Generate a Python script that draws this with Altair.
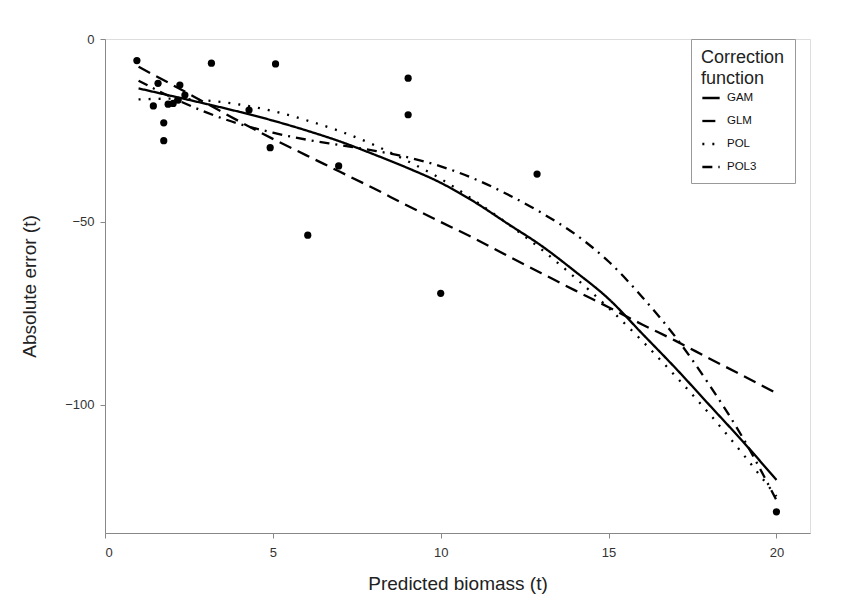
import altair as alt
import pandas as pd

# observed points
obs_x = [0.95, 1.44, 1.58, 1.75, 1.75, 1.88, 2.03, 2.18, 2.23, 2.38, 3.17, 4.29, 4.92, 5.08, 6.04, 6.96, 9.03, 9.03, 10.0, 12.87, 20.0]
obs_y = [-5.9, -18.3, -12.1, -22.9, -27.8, -17.8, -17.6, -16.7, -12.6, -15.3, -6.6, -19.4, -29.7, -6.8, -53.6, -34.7, -10.7, -20.7, -69.5, -36.9, -129.2]

# correction function curves
curve_x = [1, 2, 3, 4, 5, 6, 7, 8, 9, 10, 11, 12, 13, 14, 15, 16, 17, 18, 19, 20]
gam = [-13.5, -15.6, -17.7, -19.9, -22.3, -25.0, -28.0, -31.5, -35.2, -39.3, -44.5, -50.5, -56.5, -63.5, -71.0, -80.5, -90.0, -100.0, -110.0, -120.5]
glm = [-7.6, -12.5, -17.5, -22.5, -27.3, -31.8, -36.3, -40.8, -45.5, -50.0, -54.5, -59.3, -64.0, -68.7, -73.3, -78.0, -82.5, -87.3, -92.0, -96.8]
pol = [-16.5, -16.3, -16.8, -17.9, -19.7, -22.2, -25.2, -28.9, -33.3, -38.2, -44.1, -50.5, -57.5, -65.2, -73.5, -82.5, -92.2, -102.4, -113.4, -125.0]
pol3 = [-11.4, -16.0, -20.0, -23.2, -25.6, -27.5, -29.0, -30.5, -32.3, -34.8, -38.2, -42.5, -47.5, -53.3, -60.8, -70.5, -81.5, -94.5, -109.0, -126.0]

series_names = ["GAM", "GLM", "POL", "POL3"]
x_ticks = [0, 5, 10, 15, 20]
y_ticks = [0, -50, -100]

pts = pd.DataFrame({"x": obs_x, "y": obs_y})
rows = []
for name, vals in zip(series_names, [gam, glm, pol, pol3]):
    for xv, yv in zip(curve_x, vals):
        rows.append({"x": xv, "y": yv, "fn": name})
curves = pd.DataFrame(rows)

FONT = "Liberation Sans"

xscale = alt.Scale(domain=[0, 21], nice=False, zero=False)
yscale = alt.Scale(domain=[-135, 0], nice=False, zero=False)

xaxis = alt.Axis(values=x_ticks, title="Predicted biomass (t)", grid=False,
                 titleFontSize=19, titleFontWeight="normal", titleColor="#222",
                 labelFontSize=13, labelColor="#333", tickColor="#888", domainColor="#888",
                 tickSize=5, labelPadding=8, titlePadding=15)
yaxis = alt.Axis(values=y_ticks, title="Absolute error (t)", grid=False,
                 titleFontSize=19, titleFontWeight="normal", titleColor="#222",
                 labelFontSize=13, labelColor="#333", tickColor="#888", domainColor="#888",
                 tickSize=5, labelPadding=6, titlePadding=25)

lines = alt.Chart(curves).mark_line(color="black", strokeWidth=2.3, interpolate="monotone").encode(
    x=alt.X("x:Q", scale=xscale, axis=xaxis),
    y=alt.Y("y:Q", scale=yscale, axis=yaxis),
    strokeDash=alt.StrokeDash(
        "fn:N",
        scale=alt.Scale(domain=series_names,
                        range=[[1, 0], [13, 7], [2, 8], [10, 6, 2, 6]]),
        legend=alt.Legend(title=["Correction", "function"], orient="none",
                          legendX=586, legendY=0, padding=10,
                          strokeColor="#999", fillColor="white",
                          titleFontSize=18, titleFontWeight="normal", titleColor="#222",
                          titleLineHeight=21, titlePadding=0,
                          labelFontSize=11.5, labelColor="#111",
                          symbolType="stroke", symbolStrokeColor="black",
                          symbolStrokeWidth=2.3, symbolSize=300, rowPadding=7,
                          labelOffset=6),
    ),
    detail="fn:N",
)

points = alt.Chart(pts).mark_circle(color="black", size=52, opacity=1).encode(
    x=alt.X("x:Q", scale=xscale),
    y=alt.Y("y:Q", scale=yscale),
)

chart = alt.layer(lines, points).properties(
    width=705, height=494,
    autosize=alt.AutoSizeParams(type="none"),
    padding={"left": 97, "top": 31, "right": 22, "bottom": 66},
).configure_view(stroke="#999", strokeWidth=1.2).configure(font=FONT)

chart.save("out.html", embed_options={"renderer": "svg", "actions": False})
